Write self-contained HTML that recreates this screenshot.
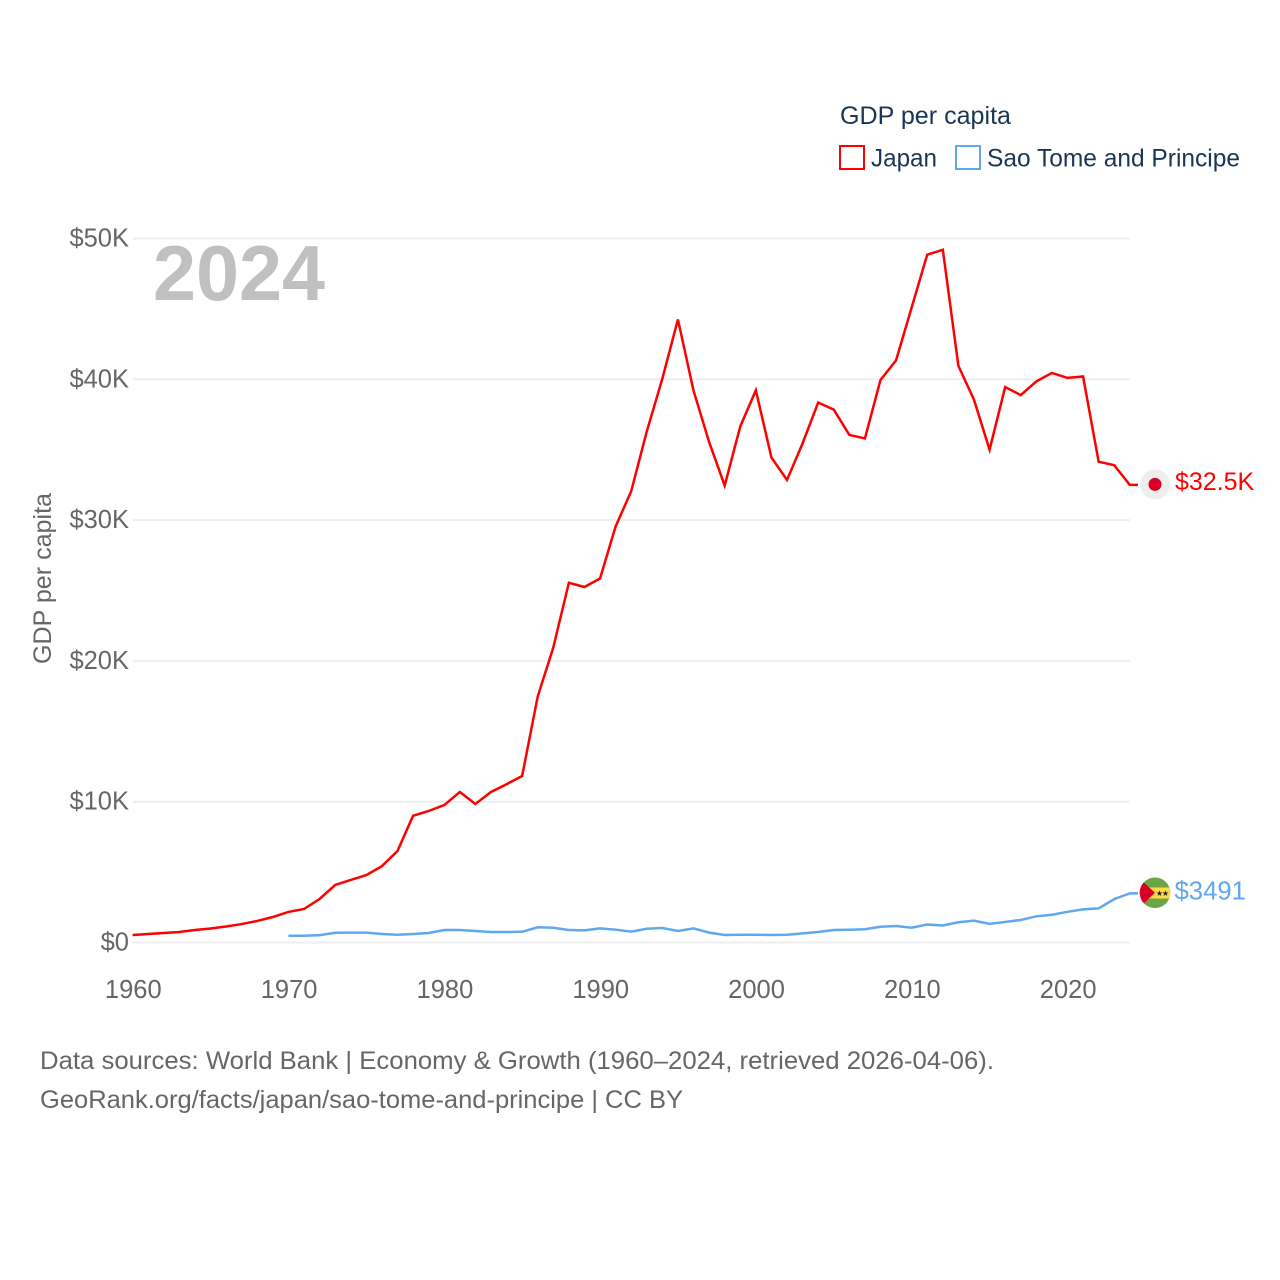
<!DOCTYPE html>
<html lang="en">
<head>
<meta charset="utf-8">
<title>GDP per capita: Japan vs Sao Tome and Principe</title>
<style>
html,body{margin:0;padding:0;background:#fff;}
svg{display:block;font-family:"Liberation Sans",sans-serif;}
</style>
</head>
<body>
<svg id="chart" xmlns="http://www.w3.org/2000/svg" width="1280" height="1280" viewBox="0 0 1280 1280">
  <defs>
    <clipPath id="stp-clip"><circle cx="1155" cy="892.8" r="15.3"/></clipPath>
  </defs>
  <rect x="0" y="0" width="1280" height="1280" fill="#fff"/>
  <g id="grid"></g>
  <g id="y-ticks"></g>
  <g id="x-ticks"></g>
  <text x="153" y="300" font-size="78" font-weight="700" fill="#c0c0c0" textLength="172" lengthAdjust="spacingAndGlyphs">2024</text>
  <text transform="translate(51,664) rotate(-90)" font-size="25" fill="#666" textLength="171" lengthAdjust="spacingAndGlyphs">GDP per capita</text>
  <g id="series"></g>

  <g>
    <circle cx="1155" cy="484.4" r="15" fill="#eeeeee"/>
    <circle cx="1155" cy="484.4" r="6.5" fill="#d80027"/>
  </g>
  <g clip-path="url(#stp-clip)">
    <rect x="1139" y="877" width="32" height="32" fill="#6da544"/>
    <rect x="1139" y="887.5" width="32" height="11" fill="#ffda44"/>
    <path d="M1139 878L1155 892.8L1139 908Z" fill="#d80027"/>
    <text x="1159.5" y="896.2" text-anchor="middle" font-size="8" fill="#222" font-family="'DejaVu Sans',sans-serif">★</text>
    <text x="1165.5" y="896.2" text-anchor="middle" font-size="8" fill="#222" font-family="'DejaVu Sans',sans-serif">★</text>
  </g>
  <text x="1175" y="490" font-size="25" fill="#ff0000">$32.5K</text>
  <text x="1174.5" y="899.5" font-size="25.7" fill="#5fa8f0">$3491</text>

  <g>
    <text x="840" y="124" font-size="25" fill="#1a3556" textLength="171" lengthAdjust="spacingAndGlyphs">GDP per capita</text>
    <g>
      <rect x="840" y="146" width="24" height="23" fill="none" stroke="#ff0000" stroke-width="2"/>
      <text x="871" y="166.5" font-size="25" fill="#1a3556" textLength="66" lengthAdjust="spacingAndGlyphs">Japan</text>
    </g>
    <g>
      <rect x="956" y="146" width="24" height="23" fill="none" stroke="#5fa8f0" stroke-width="2"/>
      <text x="987" y="166.5" font-size="25" fill="#1a3556" textLength="253" lengthAdjust="spacingAndGlyphs">Sao Tome and Principe</text>
    </g>
  </g>

  <text x="40" y="1069" font-size="25" fill="#666" textLength="954" lengthAdjust="spacingAndGlyphs">Data sources: World Bank | Economy &amp; Growth (1960–2024, retrieved 2026-04-06).</text>
  <text x="40" y="1108" font-size="25" fill="#666" textLength="643" lengthAdjust="spacingAndGlyphs">GeoRank.org/facts/japan/sao-tome-and-principe | CC BY</text>
</svg>
<script>
const japanStartYear = 1960;
const saoTomeStartYear = 1970;
const yTickValues = [0, 10000, 20000, 30000, 40000, 50000];
const yTickLabels = ["$0", "$10K", "$20K", "$30K", "$40K", "$50K"];
const xTickYears = [1960, 1970, 1980, 1990, 2000, 2010, 2020];
const japanValues = [530, 604, 675, 745, 890, 995, 1135, 1310, 1530, 1810, 2170, 2380, 3090, 4085, 4440, 4790, 5420, 6500, 9000, 9340, 9760, 10690, 9840, 10690, 11240, 11825, 17470, 20950, 25550, 25250, 25850, 29550, 32050, 36300, 40050, 44250, 39200, 35550, 32450, 36650, 39220, 34450, 32850, 35450, 38350, 37850, 36050, 35800, 39950, 41350, 45100, 48850, 49200, 40950, 38550, 35000, 39450, 38880, 39850, 40450, 40100, 40200, 34150, 33900, 32500];
const saoTomeValues = [483, 480, 520, 690, 700, 700, 600, 555, 600, 675, 885, 885, 820, 745, 745, 760, 1080, 1050, 890, 865, 1000, 910, 770, 980, 1030, 815, 1000, 700, 530, 555, 555, 530, 555, 650, 745, 890, 910, 940, 1120, 1170, 1050, 1280, 1210, 1440, 1550, 1320, 1460, 1600, 1860, 1970, 2180, 2350, 2420, 3080, 3491];

const NS = "http://www.w3.org/2000/svg";
function xScale(year) { return 132.6 + (year - 1960) * (1129.8 - 132.6) / 64; }
function yScale(value) { return 942.5 - value * (942.5 - 238.5) / 50000; }

const gridGroup = document.getElementById("grid");
const yTickGroup = document.getElementById("y-ticks");
const xTickGroup = document.getElementById("x-ticks");
const seriesGroup = document.getElementById("series");

yTickValues.forEach(function (value, i) {
  const line = document.createElementNS(NS, "line");
  
  
  line.setAttribute("x1", 133);
  line.setAttribute("x2", 1130);
  line.setAttribute("y1", yScale(value));
  line.setAttribute("y2", yScale(value));
  line.setAttribute("stroke", "#eeeeee");
  line.setAttribute("stroke-width", "2");
  gridGroup.appendChild(line);

  const label = document.createElementNS(NS, "text");
  
  
  label.setAttribute("x", 129);
  label.setAttribute("y", yScale(value) + 8);
  label.setAttribute("text-anchor", "end");
  label.setAttribute("font-size", "25.5");
  label.setAttribute("fill", "#666");
  label.textContent = yTickLabels[i];
  yTickGroup.appendChild(label);
});

xTickYears.forEach(function (year) {
  const label = document.createElementNS(NS, "text");
  
  
  label.setAttribute("x", xScale(year) + 0.7);
  label.setAttribute("y", 998);
  label.setAttribute("text-anchor", "middle");
  label.setAttribute("font-size", "25.5");
  label.setAttribute("fill", "#666");
  label.textContent = String(year);
  xTickGroup.appendChild(label);
});

function buildPoints(values, startYear) {
  const pts = values.map(function (v, i) {
    return xScale(startYear + i).toFixed(2) + "," + yScale(v).toFixed(2);
  });
  const lastY = yScale(values[values.length - 1]).toFixed(2);
  pts.push("1138," + lastY);
  return pts.join(" ");
}

const saoTomeLine = document.createElementNS(NS, "polyline");


saoTomeLine.setAttribute("points", buildPoints(saoTomeValues, saoTomeStartYear));
saoTomeLine.setAttribute("fill", "none");
saoTomeLine.setAttribute("stroke", "#5fa8f0");
saoTomeLine.setAttribute("stroke-width", "2.5");
seriesGroup.appendChild(saoTomeLine);

const japanLine = document.createElementNS(NS, "polyline");


japanLine.setAttribute("points", buildPoints(japanValues, japanStartYear));
japanLine.setAttribute("fill", "none");
japanLine.setAttribute("stroke", "#ff0000");
japanLine.setAttribute("stroke-width", "2.5");
seriesGroup.appendChild(japanLine);
</script>
</body>
</html>
